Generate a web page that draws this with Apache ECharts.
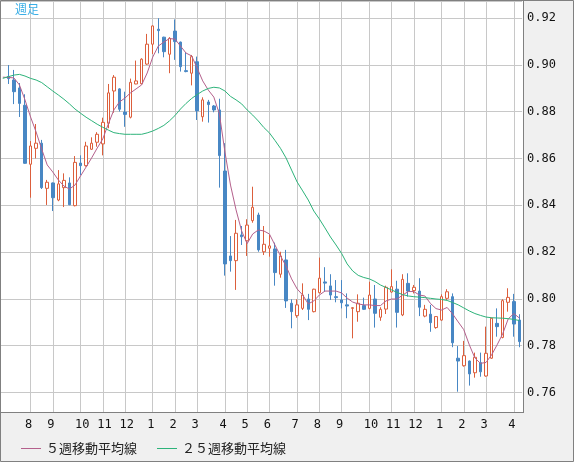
<!DOCTYPE html>
<html><head><meta charset="utf-8">
<script src="https://cdn.jsdelivr.net/npm/echarts@6/dist/echarts.min.js"></script>
<style>html,body{margin:0;padding:0;background:#f0f0f0}#c{width:574px;height:462px}</style>
</head><body><div id="c"></div>
<script>
// Month labels along the x axis and number of weekly bars in each month (first entry: partial July before the first label)
const monthNames = ['7','8','9','10','11','12','1','2','3','4','5','6','7','8','9','10','11','12','1','2','3','4'];
const weeksPerMonth = [5,4,5,4,4,5,4,4,5,4,4,5,4,4,5,4,4,5,4,4,5,2];

// Weekly OHLC (first week lies just off the left edge: only the averages are visible there)
const openP = [null,
 0.8950,0.8935,0.8901,0.8827,0.8575,0.8643,0.8665,0.8472,0.8495,0.8422,
 0.8475,0.8495,0.8398,0.8580,0.8569,0.8639,0.8669,0.8662,0.8750,0.8888,
 0.8897,0.8798,0.8776,0.8918,0.8919,0.9003,0.9088,0.9152,0.9118,0.9045,
 0.9144,0.9097,0.8975,0.8964,0.9013,0.8778,0.8841,0.8824,0.8807,0.8546,
 0.8183,0.8163,0.8273,0.8248,0.8334,0.8358,0.8201,0.8216,0.8213,0.8105,
 0.8166,0.7981,0.7928,0.7959,0.7999,0.7945,0.8026,0.8072,0.8055,0.8009,
 0.7995,0.7974,0.7959,0.7945,0.7971,0.7959,0.7999,0.7921,0.7956,0.8029,
 0.8041,0.7931,0.8066,0.8035,0.8033,0.7926,0.7934,0.7877,0.7909,0.8002,
 0.8009,0.7746,0.7714,0.7734,0.7684,0.7727,0.7670,0.7746,0.7895,0.7835,
 0.7985,0.7988,0.7909];
const closeP = [null,
 0.8941,0.8885,0.8835,0.8579,0.8653,0.8665,0.8475,0.8498,0.8432,0.8491,
 0.8506,0.8402,0.8583,0.8569,0.8653,0.8665,0.8703,0.8754,0.8880,0.8947,
 0.8810,0.8788,0.8925,0.8931,0.9024,0.9088,0.9166,0.9146,0.9056,0.9113,
 0.9099,0.8992,0.8971,0.9035,0.8803,0.8850,0.8830,0.8807,0.8612,0.8149,
 0.8163,0.8280,0.8265,0.8315,0.8391,0.8209,0.8233,0.8226,0.8112,0.8183,
 0.7991,0.7945,0.7974,0.8016,0.7955,0.8041,0.8088,0.8067,0.8016,0.8005,
 0.7983,0.7969,0.7962,0.7981,0.7955,0.8016,0.7938,0.7955,0.8049,0.8052,
 0.7942,0.8083,0.8033,0.8049,0.7964,0.7955,0.7898,0.7924,0.8009,0.8030,
 0.7812,0.7734,0.7757,0.7679,0.7750,0.7688,0.7767,0.7917,0.7881,0.7992,
 0.8006,0.7892,0.7817];
const highP = [null,
 0.8999,0.8978,0.8922,0.8874,0.8674,0.8747,0.8679,0.8508,0.8497,0.8550,
 0.8536,0.8519,0.8610,0.8613,0.8671,0.8690,0.8712,0.8774,0.8918,0.8956,
 0.8900,0.8885,0.8941,0.9018,0.9028,0.9132,0.9168,0.9199,0.9120,0.9118,
 0.9194,0.9099,0.9053,0.9042,0.9035,0.8861,0.8850,0.8828,0.8855,0.8665,
 0.8268,0.8337,0.8311,0.8340,0.8479,0.8368,0.8311,0.8273,0.8240,0.8201,
 0.8209,0.7998,0.7998,0.8066,0.8021,0.8043,0.8176,0.8135,0.8105,0.8080,
 0.8080,0.8023,0.7964,0.8019,0.8005,0.8073,0.8059,0.7964,0.8056,0.8126,
 0.8077,0.8105,0.8109,0.8059,0.8088,0.7974,0.7974,0.7924,0.8019,0.8041,
 0.8023,0.7798,0.7820,0.7736,0.7770,0.7770,0.7881,0.7919,0.7959,0.7998,
 0.8045,0.8021,0.7934];
const lowP = [null,
 0.8918,0.8832,0.8777,0.8577,0.8432,0.8600,0.8469,0.8401,0.8375,0.8417,
 0.8392,0.8400,0.8395,0.8529,0.8565,0.8636,0.8650,0.8613,0.8729,0.8795,
 0.8800,0.8735,0.8771,0.8917,0.8917,0.9000,0.9046,0.9049,0.9032,0.8964,
 0.9021,0.8971,0.8968,0.8912,0.8764,0.8757,0.8753,0.8797,0.8475,0.8099,
 0.8116,0.8038,0.8230,0.8183,0.8325,0.8201,0.8187,0.8180,0.8056,0.8090,
 0.7961,0.7874,0.7919,0.7952,0.7909,0.7942,0.8023,0.8030,0.7995,0.7985,
 0.7959,0.7917,0.7831,0.7902,0.7952,0.7955,0.7877,0.7906,0.7935,0.8026,
 0.7877,0.7926,0.8009,0.8023,0.7926,0.7921,0.7859,0.7872,0.7906,0.7995,
 0.7793,0.7603,0.7710,0.7629,0.7663,0.7667,0.7667,0.7743,0.7838,0.7831,
 0.7945,0.7838,0.7793];

// 5-week and 25-week moving averages
const ma5 = [
 0.8947,0.8946,0.8944,0.8914,0.8850,0.8777,0.8713,0.8640,0.8572,0.8542,
 0.8508,0.8482,0.8469,0.8486,0.8525,0.8563,0.8602,0.8644,0.8683,0.8747,
 0.8807,0.8841,0.8858,0.8880,0.8897,0.8914,0.8965,0.9033,0.9080,0.9097,
 0.9112,0.9110,0.9080,0.9050,0.9038,0.8986,0.8931,0.8892,0.8862,0.8790,
 0.8627,0.8486,0.8380,0.8290,0.8236,0.8277,0.8294,0.8290,0.8277,0.8230,
 0.8183,0.8140,0.8085,0.8042,0.8016,0.7978,0.7991,0.8016,0.8033,0.8033,
 0.8033,0.8025,0.8003,0.7986,0.7978,0.7974,0.7974,0.7971,0.7971,0.7991,
 0.7999,0.7999,0.8016,0.8031,0.8031,0.8016,0.8012,0.7980,0.7958,0.7952,
 0.7963,0.7935,0.7901,0.7868,0.7803,0.7747,0.7724,0.7728,0.7760,0.7803,
 0.7850,0.7914,0.7937,0.7918];
const ma25 = [
 0.8942,0.8949,0.8956,0.8959,0.8952,0.8942,0.8935,0.8924,0.8906,0.8888,
 0.8871,0.8853,0.8833,0.8811,0.8793,0.8776,0.8761,0.8746,0.8733,0.8721,
 0.8710,0.8706,0.8703,0.8703,0.8703,0.8703,0.8709,0.8717,0.8728,0.8741,
 0.8760,0.8783,0.8811,0.8835,0.8856,0.8873,0.8888,0.8899,0.8904,0.8901,
 0.8888,0.8865,0.8850,0.8833,0.8807,0.8785,0.8760,0.8732,0.8709,0.8677,
 0.8643,0.8602,0.8550,0.8499,0.8461,0.8422,0.8375,0.8341,0.8303,0.8264,
 0.8230,0.8194,0.8149,0.8119,0.8100,0.8091,0.8085,0.8074,0.8059,0.8048,
 0.8038,0.8027,0.8018,0.8012,0.8009,0.8007,0.8005,0.8002,0.7999,0.7997,
 0.7993,0.7984,0.7974,0.7961,0.7948,0.7937,0.7929,0.7922,0.7919,0.7918,
 0.7917,0.7915,0.7912,0.7907];

const seriesNames = ['５週移動平均線', '２５週移動平均線'];

// ---- build category axis (weeks) ----
const categories = [];
const monthStart = new Set();
const labelText = {};
monthNames.forEach((m, mi) => {
  for (let k = 0; k < weeksPerMonth[mi]; k++) {
    if (k === 0 && mi > 0) {
      monthStart.add(categories.length);
      labelText[categories.length - 1] = m;   // label is drawn left-aligned from the previous week
    }
    categories.push(mi + ':' + m + '月第' + (k + 1) + '週');
  }
});
const candles = categories.map((_, j) =>
  openP[j] == null ? '-' : [openP[j], closeP[j], lowP[j], highP[j]]);

const UP = '#dc5f3c', DOWN = '#4887c4', GRID = '#c8c8c8', FRAME = '#808080';

const chart = echarts.init(document.getElementById('c'), null, {renderer: 'canvas'});
chart.setOption({
  animation: false,
  backgroundColor: '#f0f0f0',
  title: {
    text: '週足', left: 15, top: 3, padding: 0,
    textStyle: {color: '#3aaee6', fontSize: 12, fontWeight: 'normal', fontFamily: 'Noto Sans CJK JP'}
  },
  legend: {
    data: seriesNames, left: 16, top: 437, itemGap: 20,
    icon: 'rect', itemWidth: 20, itemHeight: 1,
    textStyle: {fontSize: 13, color: '#222', fontFamily: 'Noto Sans CJK JP'}
  },
  grid: {left: -1, top: 1, width: 523.1, height: 411, containLabel: false},
  xAxis: {
    type: 'category', data: categories, boundaryGap: true,
    axisLine: {show: false}, axisTick: {show: false},
    axisLabel: {
      interval: (idx) => labelText[idx] !== undefined,
      formatter: (v, idx) => labelText[idx] || '',
      align: 'left', margin: 7,
      fontFamily: 'DejaVu Sans Mono', fontSize: 12, color: '#111'
    },
    splitLine: {
      show: true, alignWithLabel: true,
      interval: (idx) => monthStart.has(idx),
      lineStyle: {color: GRID, width: 1}
    }
  },
  yAxis: {
    type: 'value', position: 'right', scale: true,
    min: 0.75162, max: 0.92726, splitNumber: 8,
    axisLine: {show: false}, axisTick: {show: false},
    axisLabel: {
      margin: 5, fontFamily: 'DejaVu Sans Mono', fontSize: 12, color: '#111',
      formatter: (v) => { const r = Math.round(v * 50); return Math.abs(v * 50 - r) < 0.01 ? (r / 50).toFixed(2) : ''; }
    },
    splitLine: {show: true, lineStyle: {color: GRID, width: 1}}
  },
  series: [
    {
      type: 'candlestick', data: candles, barWidth: 3, z: 2,
      itemStyle: {color: '#ffffff', color0: DOWN, borderColor: UP, borderColor0: DOWN, borderWidth: 1}
    },
    {name: seriesNames[0], type: 'line', data: ma5, symbol: 'none', z: 3,
     lineStyle: {width: 1, color: '#b4608c'}, itemStyle: {color: '#b4608c'}},
    {name: seriesNames[1], type: 'line', data: ma25, symbol: 'none', z: 3,
     lineStyle: {width: 1, color: '#2db37a'}, itemStyle: {color: '#2db37a'}}
  ],
  graphic: [
    {type: 'rect', z: -10, silent: true, shape: {x: 0, y: 0, width: 523, height: 412}, style: {fill: '#ffffff'}},
    {type: 'line', z: 100, silent: true, shape: {x1: 523.5, y1: 0, x2: 523.5, y2: 413}, style: {stroke: FRAME, lineWidth: 1}},
    {type: 'line', z: 100, silent: true, shape: {x1: 0, y1: 412.5, x2: 524, y2: 412.5}, style: {stroke: FRAME, lineWidth: 1}},
    {type: 'rect', z: 100, silent: true, shape: {x: 0.5, y: 0.5, width: 573, height: 461}, style: {fill: 'none', stroke: FRAME, lineWidth: 1}}
  ]
});
</script>
</body></html>
